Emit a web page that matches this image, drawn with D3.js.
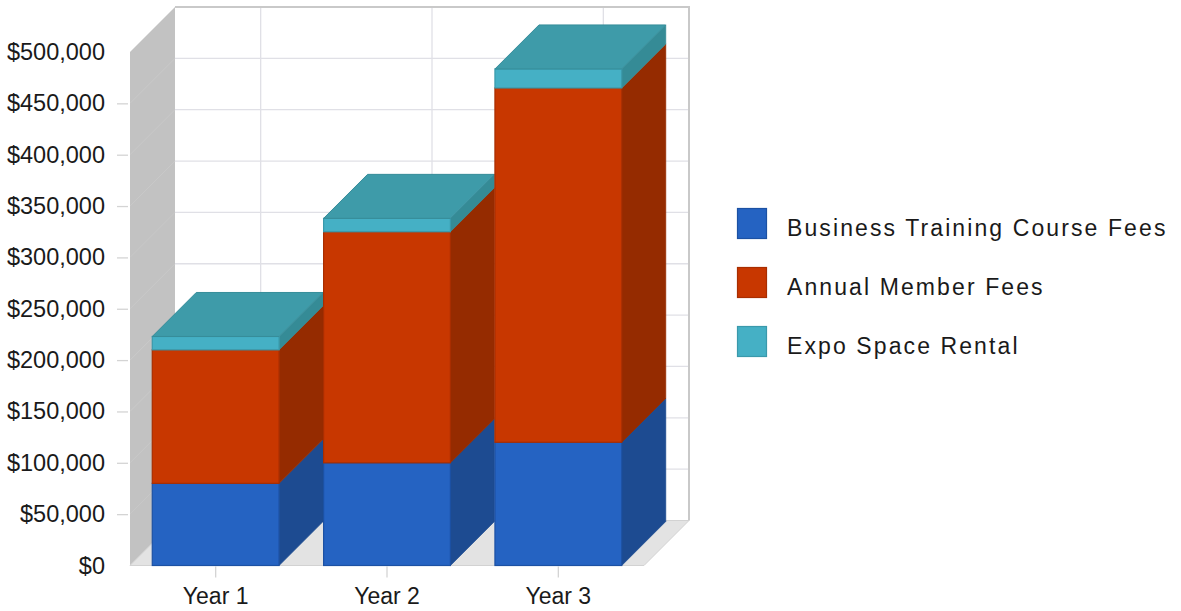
<!DOCTYPE html>
<html>
<head>
<meta charset="utf-8">
<script src="https://cdn.jsdelivr.net/npm/d3@7"></script>
<style>
  body { margin: 0; background: #ffffff; }
  text { font-family: "Liberation Sans", Arial, sans-serif; fill: #1a1a1a; }
</style>
</head>
<body>
<svg id="chart" width="1181" height="611"></svg>
<script>
// Revenue by year, stacked by source
const categories = ["Year 1", "Year 2", "Year 3"];
const seriesNames = ["Business Training Course Fees", "Annual Member Fees", "Expo Space Rental"];
const trainingFees = [80000, 100000, 120000];
const memberFees = [130000, 225000, 345000];
const expoRental = [13000, 13000, 18500];
const yTicks = [0, 50000, 100000, 150000, 200000, 250000, 300000, 350000, 400000, 450000, 500000];

// Face colours per series: front, side, outline
const palette = [
  { front: "#2563c2", side: "#1d4b91", edge: "#1c51a3" },
  { front: "#c83700", side: "#952b00", edge: "#a82e00" },
  { front: "#45b0c5", side: "#358b96", edge: "#3a99ab" }
];
const topFace = { fill: "#3e9ba9", edge: "#378d9a" };

const svg = d3.select("#chart");

// Plot frame (front plane) and 3D depth offsets
const frontLeft = 130, frontRight = 644;
const floorY = 565.5, topY = 52;
const wallDX = 45, wallDY = 45;
const barDX = 44, barDY = 44;

const y = d3.scaleLinear().domain([0, 500000]).range([floorY, topY]);
const x = d3.scaleBand().domain(categories).range([frontLeft, frontRight])
  .paddingInner(0.26).paddingOuter(0.13);
const bw = x.bandwidth();

const rows = categories.map((c, i) => ({
  category: c,
  training: trainingFees[i],
  member: memberFees[i],
  expo: expoRental[i]
}));
const keys = ["training", "member", "expo"];
const stacked = d3.stack().keys(keys)(rows);

// ---- Back wall ----
const backX0 = frontLeft + wallDX, backX1 = frontRight + wallDX;
const backY0 = y(500000) - wallDY, backY1 = floorY - wallDY;
svg.append("rect")
  .attr("x", backX0).attr("y", backY0)
  .attr("width", backX1 - backX0).attr("height", backY1 - backY0)
  .attr("fill", "#ffffff");

const grid = svg.append("g").attr("stroke", "#e0e0e6").attr("stroke-width", 1.3);
grid.selectAll("line.h").data(yTicks.filter(t => t > 0 && t < 500000)).join("line")
  .attr("x1", backX0).attr("x2", backX1)
  .attr("y1", d => y(d) - wallDY).attr("y2", d => y(d) - wallDY);
grid.selectAll("line.v").data(categories).join("line")
  .attr("x1", d => x(d) + bw / 2 + wallDX).attr("x2", d => x(d) + bw / 2 + wallDX)
  .attr("y1", backY0).attr("y2", backY1);

// wall border (top and right)
svg.append("path")
  .attr("d", `M${backX0},${backY0}H${backX1}V${backY1}`)
  .attr("fill", "none").attr("stroke", "#c9c9c9").attr("stroke-width", 2);

// ---- Left wall ----
svg.append("path")
  .attr("d", `M${frontLeft},${topY}L${frontLeft + wallDX},${topY - wallDY}L${frontLeft + wallDX},${floorY - wallDY}L${frontLeft},${floorY}Z`)
  .attr("fill", "#c2c2c2");
svg.append("g").attr("stroke", "rgba(255,255,255,0.1)").attr("stroke-width", 1)
  .selectAll("line").data(yTicks.filter(t => t > 0 && t < 500000)).join("line")
  .attr("x1", frontLeft).attr("y1", d => y(d))
  .attr("x2", frontLeft + wallDX).attr("y2", d => y(d) - wallDY);

// ---- Floor ----
svg.append("path")
  .attr("d", `M${frontLeft},${floorY}L${frontLeft + wallDX},${floorY - wallDY}L${backX1},${floorY - wallDY}L${frontRight},${floorY}Z`)
  .attr("fill", "#e3e3e3").attr("stroke", "#d2d2d2").attr("stroke-width", 1);

// ---- Axes ----
const yAxis = d3.axisLeft(y)
  .tickValues(yTicks)
  .tickFormat(d => "$" + d3.format(",")(d))
  .tickSize(11)
  .tickPadding(12);
const gy = svg.append("g").attr("transform", `translate(${frontLeft - 2},0)`).call(yAxis);
gy.select(".domain").remove();
gy.selectAll(".tick line")
  .attr("stroke", "#d4d4d4").attr("stroke-width", 1.3)
  .attr("opacity", d => (d > 0 && d < 500000) ? 1 : 0);
gy.selectAll(".tick text")
  .attr("font-size", 23.5).attr("font-family", "Liberation Sans, Arial, sans-serif")
  .attr("fill", "#1a1a1a");

const xAxis = d3.axisBottom(x).tickSize(11).tickPadding(10);
const gx = svg.append("g").attr("transform", `translate(0,${floorY + 1})`).call(xAxis);
gx.select(".domain").remove();
gx.selectAll(".tick line").attr("stroke", "#d4d4d4").attr("stroke-width", 1.3);
gx.selectAll(".tick text")
  .attr("font-size", 23).attr("font-family", "Liberation Sans, Arial, sans-serif")
  .attr("fill", "#1a1a1a");

// ---- 3D stacked bars ----
const barsG = svg.append("g");
categories.forEach((cat, i) => {
  const g = barsG.append("g");
  const x0 = x(cat), x1 = x0 + bw;
  stacked.forEach((layer, s) => {
    const [v0, v1] = layer[i];
    const yb = y(v0), yt = y(v1);
    const col = palette[s];
    // right side face
    g.append("path")
      .attr("d", `M${x1},${yt}L${x1 + barDX},${yt - barDY}L${x1 + barDX},${yb - barDY}L${x1},${yb}Z`)
      .attr("fill", col.side).attr("stroke", col.side).attr("stroke-width", 0.8);
    // front face
    g.append("rect")
      .attr("x", x0).attr("y", yt)
      .attr("width", bw).attr("height", yb - yt)
      .attr("fill", col.front).attr("stroke", col.edge).attr("stroke-width", 1.2);
  });
  // top face of the stack
  const total = stacked[stacked.length - 1][i][1];
  const yT = y(total);
  g.append("path")
    .attr("d", `M${x0},${yT}L${x0 + barDX},${yT - barDY}L${x1 + barDX},${yT - barDY}L${x1},${yT}Z`)
    .attr("fill", topFace.fill).attr("stroke", topFace.edge).attr("stroke-width", 1);
});

// ---- Legend ----
const legend = svg.append("g").attr("transform", "translate(737,208)");
const item = legend.selectAll("g").data(seriesNames).join("g")
  .attr("transform", (d, i) => `translate(0,${i * 59})`);
item.append("rect")
  .attr("x", 0.5).attr("y", 0.5).attr("width", 29).attr("height", 30)
  .attr("fill", (d, i) => palette[i].front)
  .attr("stroke", (d, i) => palette[i].edge).attr("stroke-width", 1.2);
item.append("text")
  .attr("x", 50).attr("y", 28)
  .attr("font-size", 23)
  .attr("letter-spacing", 2.1)
  .text(d => d);
</script>
</body>
</html>
